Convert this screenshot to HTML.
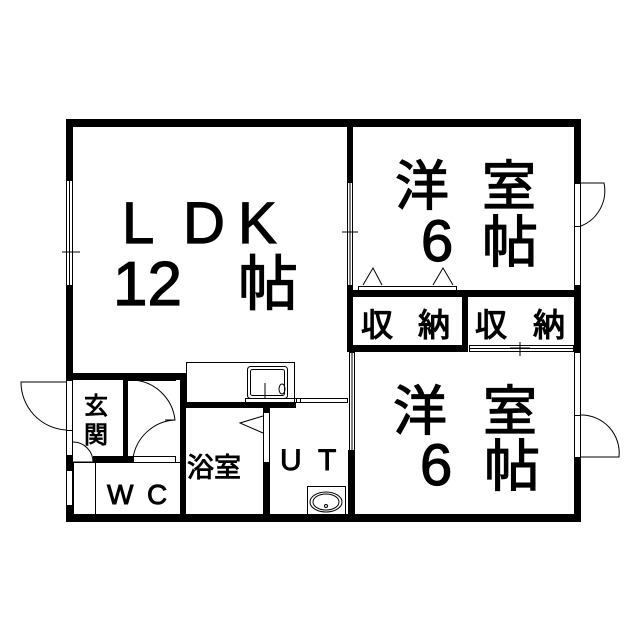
<!DOCTYPE html>
<html><head><meta charset="utf-8"><style>
html,body{margin:0;padding:0;background:#fff;}
svg{display:block}
text{font-family:"Liberation Sans","Noto Sans CJK JP",sans-serif;fill:#000;stroke:#000;stroke-width:1.2}
text.s{stroke-width:0.9}
</style></head><body>
<svg width="639" height="640" viewBox="0 0 639 640" xmlns="http://www.w3.org/2000/svg">
<g fill="#000">
<rect x="66" y="119" width="515" height="8"/>
<rect x="66" y="119" width="7" height="61"/>
<rect x="66" y="285" width="7" height="95"/>
<rect x="66" y="455" width="7" height="15"/>
<rect x="66" y="505" width="7" height="16"/>
<rect x="66" y="514" width="515" height="8"/>
<rect x="574" y="119" width="7" height="64"/>
<rect x="574" y="285" width="7" height="67"/>
<rect x="574" y="457" width="7" height="65"/>
<rect x="347" y="119" width="6" height="63"/>
<rect x="347" y="285" width="6" height="67"/>
<rect x="347" y="290" width="234" height="7"/>
<rect x="462" y="290" width="6" height="62"/>
<rect x="347" y="345" width="121" height="7"/>
<rect x="574" y="345" width="7" height="7"/>
<rect x="348" y="450" width="7" height="71"/>
<rect x="66" y="373" width="117" height="7"/>
<rect x="123" y="373" width="5" height="90"/>
<rect x="93" y="456" width="40" height="6"/>
<rect x="180" y="373" width="6" height="148"/>
<rect x="183" y="402" width="113" height="6"/>
<rect x="263" y="402" width="7" height="10"/>
<rect x="263" y="462" width="7" height="59"/>
</g>
<g fill="none" stroke="#000" stroke-width="1">
<rect x="66.5" y="180.5" width="6" height="105"/>
<line x1="69.5" y1="180" x2="69.5" y2="285"/>
<line x1="62" y1="252" x2="80" y2="252"/>
<rect x="347.5" y="182.5" width="5" height="103"/>
<line x1="350" y1="182" x2="350" y2="285"/>
<line x1="342" y1="232" x2="358" y2="232"/>
<rect x="574.5" y="226.5" width="6" height="59"/>
<rect x="574.5" y="183.5" width="6" height="43"/>
<path d="M581 183 L604 183 A38 38 0 0 1 581 226"/>
<rect x="574.5" y="352.5" width="6" height="63"/>
<rect x="574.5" y="415.5" width="6" height="42"/>
<path d="M581 415 A38 38 0 0 1 619 457 L581 457"/>
<rect x="349.5" y="352.5" width="5" height="98"/>
<line x1="352" y1="352" x2="352" y2="450"/>
<rect x="469.5" y="345.5" width="104" height="6"/>
<line x1="470" y1="348.5" x2="573" y2="348.5"/>
<line x1="510" y1="348" x2="530" y2="348"/>
<line x1="520" y1="342" x2="520" y2="356"/>
<rect x="358.5" y="286.5" width="98" height="4"/>
<path d="M363 285 L373 268 L382 285"/>
<path d="M433 285 L443 268 L453 285"/>
<rect x="66.5" y="380.5" width="6" height="50"/>
<path d="M66 382 L21 382 A48 48 0 0 0 66 430"/>
<rect x="66.5" y="430.5" width="6" height="25"/>
<rect x="66.5" y="470.5" width="6" height="35"/>
<path d="M73 442 A20 20 0 0 1 93 462 L73 462"/>
<rect x="128.5" y="373.5" width="47" height="7"/>
<path d="M133 380 A45 45 0 0 1 175 420 L165 420"/>
<path d="M133 458 A45 45 0 0 1 175 420"/>
<rect x="133.5" y="456.5" width="42" height="6"/>
<rect x="73.5" y="462.5" width="22" height="52"/>
<rect x="95.5" y="462.5" width="85" height="52"/>
<rect x="186.5" y="362.5" width="108" height="40"/>
<rect x="247.5" y="366.5" width="40" height="32" rx="3"/>
<rect x="250.5" y="369.5" width="34" height="26" rx="2"/>
<ellipse cx="282" cy="389" rx="3" ry="5"/>
<line x1="265" y1="383" x2="265" y2="398"/>
<rect x="245.5" y="398.5" width="55" height="4"/>
<rect x="296.5" y="398.5" width="51" height="4"/>
<rect x="263.5" y="412.5" width="6" height="50"/>
<path d="M263 416 L240 423 L263 433"/>
<rect x="307.5" y="486.5" width="38" height="28"/>
<ellipse cx="326" cy="502" rx="16" ry="10"/>
<ellipse cx="326" cy="502" rx="13" ry="8"/>
<circle cx="326" cy="506" r="1.5"/>
</g>
<text x="122" y="243" font-size="58">L</text>
<text x="183" y="243" font-size="58">D</text>
<text x="238" y="243" font-size="58">K</text>
<text x="113" y="305" font-size="62">12</text>
<text x="238" y="305" font-size="60">帖</text>
<text x="395" y="205" font-size="54">洋</text>
<text x="482" y="205" font-size="54">室</text>
<text x="421" y="261" font-size="58">6</text>
<text x="482" y="262" font-size="56">帖</text>
<text x="361" y="336" font-size="32">収</text>
<text x="418" y="336" font-size="32">納</text>
<text x="475" y="336" font-size="32">収</text>
<text x="533" y="336" font-size="32">納</text>
<text x="393" y="430" font-size="54">洋</text>
<text x="483" y="430" font-size="54">室</text>
<text x="420" y="485" font-size="58">6</text>
<text x="484" y="486" font-size="56">帖</text>
<text class="s" x="84" y="414" font-size="24">玄</text>
<text class="s" x="84" y="443" font-size="24">関</text>
<text class="s" x="107" y="504" font-size="28">W</text>
<text class="s" x="147" y="504" font-size="28">C</text>
<text class="s" x="187" y="477" font-size="27">浴室</text>
<text class="s" x="280" y="470" font-size="30">U</text>
<text class="s" x="318" y="470" font-size="30">T</text>
</svg>
</body></html>
